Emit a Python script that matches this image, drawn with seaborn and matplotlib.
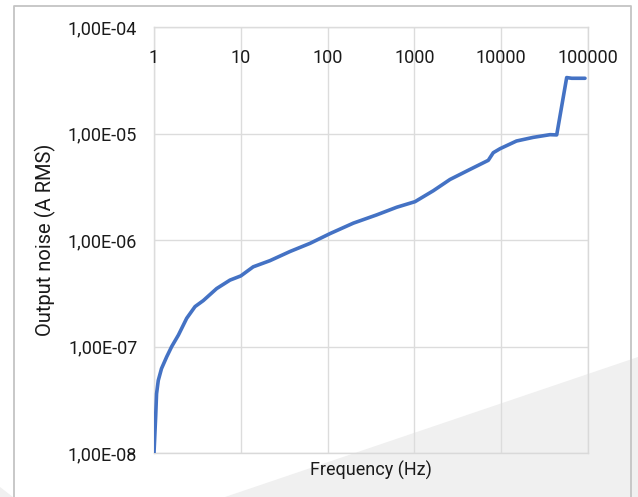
import matplotlib
matplotlib.use("Agg")
import matplotlib.pyplot as plt
import seaborn as sns
import pandas as pd
from matplotlib.patches import Polygon
from matplotlib.lines import Line2D
from matplotlib.ticker import FixedLocator, FixedFormatter, NullLocator

# ---- data ----
freq = [1, 1.045, 1.07, 1.12, 1.22, 1.40, 1.60, 1.91, 2.38, 2.97, 3.7, 5.27, 7.5, 10,
        13.9, 21.7, 36.9, 62.7, 107, 198, 367, 625, 1016, 1650, 2570, 4370, 7100,
        8100, 9700, 15000, 23400, 36500, 43600, 56800, 64900, 92300]
noise = [1.0e-8, 2.2e-8, 3.6e-8, 4.8e-8, 6.2e-8, 8.0e-8, 1.0e-7, 1.28e-7, 1.84e-7,
         2.37e-7, 2.7e-7, 3.5e-7, 4.2e-7, 4.6e-7, 5.6e-7, 6.4e-7, 7.8e-7, 9.3e-7,
         1.15e-6, 1.44e-6, 1.72e-6, 2.03e-6, 2.29e-6, 2.9e-6, 3.7e-6, 4.6e-6, 5.6e-6,
         6.6e-6, 7.2e-6, 8.5e-6, 9.2e-6, 9.75e-6, 9.7e-6, 3.35e-5, 3.3e-5, 3.3e-5]
x_ticks = [1, 10, 100, 1000, 10000, 100000]
x_tick_labels = ["1", "10", "100", "1000", "10000", "100000"]
y_ticks = [1e-8, 1e-7, 1e-6, 1e-5, 1e-4]
y_tick_labels = ["1,00E-08", "1,00E-07", "1,00E-06", "1,00E-05", "1,00E-04"]
x_label = "Frequency (Hz)"
y_label = "Output noise (A RMS)"

df = pd.DataFrame({"freq": freq, "noise": noise})

sns.set_theme(style="white")
plt.rcParams["font.family"] = ["Roboto", "DejaVu Sans"]

W, H = 638, 497
fig = plt.figure(figsize=(W / 100, H / 100), dpi=100)
fig.patch.set_facecolor("white")

# background decoration (grey wedge, outer frame)
fig.patches.append(Polygon([(225 / W, 0), (1, 140 / H), (1, 0)], closed=True,
                           transform=fig.transFigure, facecolor="#f0f0f0",
                           edgecolor="none", zorder=-2))
fig.patches.append(Polygon([(0, 10 / H), (13 / W, 0), (0, 0)], closed=True,
                           transform=fig.transFigure, facecolor="#f0f0f0",
                           edgecolor="none", zorder=-2))
fx0, fx1, fy1 = 14 / W, 631 / W, 1 - 6 / H
fig.lines.append(Line2D([fx0, fx0, fx1, fx1], [0, fy1, fy1, 0],
                        transform=fig.transFigure, color="#c4c4c4", lw=1.3, zorder=-1))

ax = fig.add_axes([154 / W, 44 / H, 434 / W, 426 / H])
ax.set_facecolor("none")

sns.lineplot(data=df, x="freq", y="noise", ax=ax, color="#4472C4", linewidth=2.6,
             sort=False, zorder=3)

ax.set_xscale("log")
ax.set_yscale("log")
ax.set_xlim(1, 100000)
ax.set_ylim(1e-8, 1e-4)

ax.xaxis.set_major_locator(FixedLocator(x_ticks))
ax.xaxis.set_major_formatter(FixedFormatter(x_tick_labels))
ax.xaxis.set_minor_locator(NullLocator())
ax.yaxis.set_major_locator(FixedLocator(y_ticks))
ax.yaxis.set_major_formatter(FixedFormatter(y_tick_labels))
ax.yaxis.set_minor_locator(NullLocator())

ax.grid(True, which="major", color="#dcdcdc", linewidth=1.0)
for s in ax.spines.values():
    s.set_color("#d9d9d9")
    s.set_linewidth(1.0)
    s.set_zorder(0.5)

ax.tick_params(axis="x", bottom=False, labelbottom=False, top=False, labeltop=True,
               length=0, pad=-29, labelsize=13, labelcolor="#1a1a1a")
ax.tick_params(axis="y", left=False, length=0, pad=12, labelsize=13, labelcolor="#1a1a1a")

ax.set_xlabel(x_label, fontsize=13, color="#1a1a1a")
ax.xaxis.set_label_position("bottom")
ax.xaxis.set_label_coords(0.5, -0.018)
ax.set_ylabel(y_label, fontsize=14.5, color="#1a1a1a")
ax.yaxis.set_label_coords(-0.226, 0.5)

fig.savefig("out.png", dpi=100, facecolor="white")
